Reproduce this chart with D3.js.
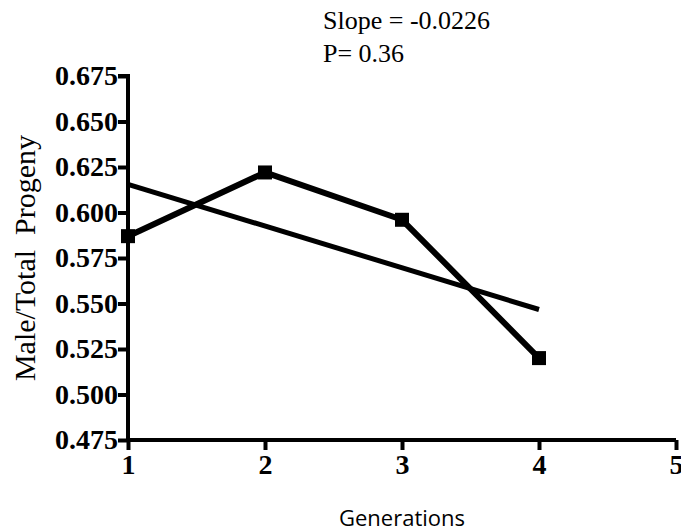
<!DOCTYPE html>
<html>
<head>
<meta charset="utf-8">
<script src="https://cdn.jsdelivr.net/npm/d3@7"></script>
<style>
  body { margin: 0; background: #fff; }
  #chart { width: 681px; height: 531px; }
</style>
</head>
<body>
<div id="chart"></div>
<script>
//Datos
const generaciones = [1, 2, 3, 4];
const proporcion = [0.587, 0.622, 0.596, 0.520];
const regresion = [[1, 0.6155], [4, 0.5467]];
const ticksY = [0.475, 0.500, 0.525, 0.550, 0.575, 0.600, 0.625, 0.650, 0.675];
const ticksX = [1, 2, 3, 4, 5];

let margin = {top: 76, right: 5, bottom: 91, left: 128},
    width = 681 - margin.left - margin.right,
    height = 531 - margin.top - margin.bottom;

let svg = d3.select("#chart")
    .append("svg")
      .attr("width", 681)
      .attr("height", 531)
    .append("g")
      .attr("transform", "translate(" + margin.left + "," + margin.top + ")");

//Escalas
let x = d3.scaleLinear().domain([1, 5]).range([0, width]);
let y = d3.scaleLinear().domain([0.475, 0.675]).range([height, 0]);

function estiloTicks(g) {
    g.selectAll("path, line").attr("stroke", "#000").attr("stroke-width", 4);
    g.selectAll("text")
        .attr("fill", "#000")
        .style("font-family", "'Liberation Serif', 'Times New Roman', serif")
        .style("font-weight", "bold")
        .style("font-size", "28px");
}

//Eje Y
svg.append("g")
    .attr("class", "yaxis")
    .call(d3.axisLeft(y).tickValues(ticksY).tickFormat(d3.format(".3f")).tickSize(10).tickPadding(0))
    .call(estiloTicks)
    .call(g => g.select(".domain").attr("d", "M-10,0H0V" + height));

//Eje X
svg.append("g")
    .attr("class", "xaxis")
    .attr("transform", "translate(0," + height + ")")
    .call(d3.axisBottom(x).tickValues(ticksX).tickFormat(d3.format("d")).tickSize(10).tickPadding(4))
    .call(estiloTicks)
    .call(g => g.select(".domain").attr("d", "M0,0H" + width));

//Regresión
svg.append("path")
    .datum(regresion)
    .attr("fill", "none")
    .attr("stroke", "#000")
    .attr("stroke-width", 5)
    .attr("d", d3.line().x(d => x(d[0])).y(d => y(d[1])));

//Línea de datos
let datos = generaciones.map((g, i) => [g, proporcion[i]]);

svg.append("path")
    .datum(datos)
    .attr("fill", "none")
    .attr("stroke", "#000")
    .attr("stroke-width", 6)
    .attr("stroke-linejoin", "round")
    .attr("d", d3.line().x(d => x(d[0])).y(d => y(d[1])));

svg.selectAll(".punto")
    .data(datos)
    .enter()
    .append("rect")
    .attr("class", "punto")
    .attr("x", d => x(d[0]) - 7)
    .attr("y", d => y(d[1]) - 7)
    .attr("width", 14)
    .attr("height", 14)
    .attr("fill", "#000");

//Textos
let root = d3.select("#chart svg");

root.append("text")
    .attr("x", 24)
    .attr("y", 258)
    .attr("transform", "rotate(-90,24,258)")
    .attr("text-anchor", "middle")
    .attr("dominant-baseline", "central")
    .style("font-family", "'Liberation Serif', serif")
    .style("font-size", "30px")
    .style("white-space", "pre")
    .text("Male/Total  Progeny");

root.append("text")
    .attr("x", 402)
    .attr("y", 526)
    .attr("text-anchor", "middle")
    .style("font-family", "'Open Sans', sans-serif")
    .style("font-size", "22px")
    .text("Generations");

root.append("text")
    .attr("x", 323)
    .attr("y", 29)
    .style("font-family", "'Liberation Serif', serif")
    .style("font-size", "26px")
    .text("Slope = -0.0226");

root.append("text")
    .attr("x", 323)
    .attr("y", 62)
    .style("font-family", "'Liberation Serif', serif")
    .style("font-size", "26px")
    .text("P= 0.36");
</script>
</body>
</html>
